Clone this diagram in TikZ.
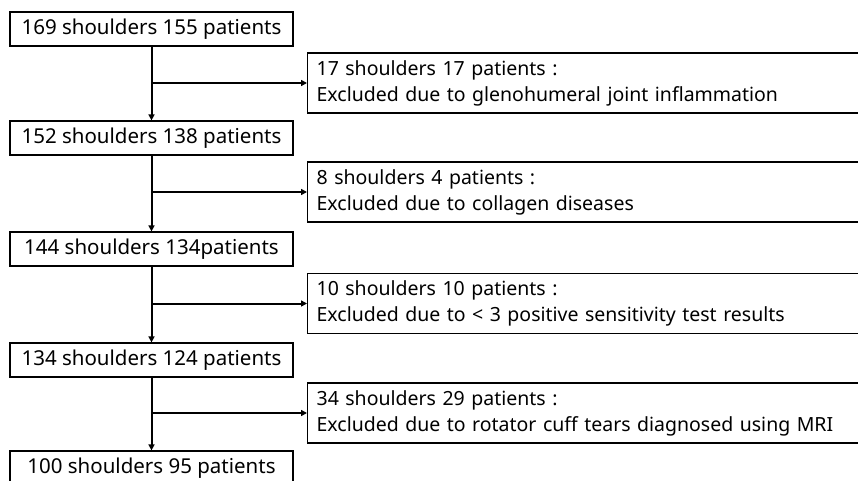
\documentclass[tikz,border=0pt]{standalone}
\usepackage{fontspec}
\setmainfont{Noto Sans}
\usetikzlibrary{arrows.meta}
\begin{document}
\begin{tikzpicture}[x=1pt,y=-1pt,
  mainbox/.style={draw, line width=1.2pt, minimum width=283pt, minimum height=34pt, inner sep=0pt, font=\fontsize{20.5}{24}\selectfont},
  exbox/.style={draw, line width=1.2pt, minimum width=560pt, minimum height=60pt, text width=542pt, inner xsep=9pt, inner ysep=0pt, align=left, anchor=west, font=\fontsize{19.5}{26}\selectfont},
  arr/.style={line width=2pt, -{Triangle[length=6pt,width=6pt]}}]
\useasboundingbox (0,0) rectangle (858,481);
\clip (0,0) rectangle (858,481);
\fill[white] (0,0) rectangle (858,481);
\node[mainbox] (m1) at (151.5,29) {169 shoulders 155 patients};
\node[mainbox] (m2) at (151.5,138) {152 shoulders 138 patients};
\node[mainbox] (m3) at (151.5,249) {144 shoulders 134patients};
\node[mainbox] (m4) at (151.5,360) {134 shoulders 124 patients};
\node[mainbox] (m5) at (151.5,468) {100 shoulders 95 patients};
\node[exbox] (e1) at (307,83) {17 shoulders 17 patients :\\Excluded due to glenohumeral joint inflammation};
\node[exbox] (e2) at (307,192) {8 shoulders 4 patients :\\Excluded due to collagen diseases};
\node[exbox] (e3) at (307,303.5) {10 shoulders 10 patients :\\Excluded due to < 3 positive sensitivity test results};
\node[exbox] (e4) at (307,413) {34 shoulders 29 patients :\\Excluded due to rotator cuff tears diagnosed using MRI};
\draw[arr] (m1.south) -- (m2.north);
\draw[arr] (m2.south) -- (m3.north);
\draw[arr] (m3.south) -- (m4.north);
\draw[arr] (m4.south) -- (m5.north);
\draw[arr] (m1.south |- e1.west) -- (e1.west);
\draw[arr] (m2.south |- e2.west) -- (e2.west);
\draw[arr] (m3.south |- e3.west) -- (e3.west);
\draw[arr] (m4.south |- e4.west) -- (e4.west);
\end{tikzpicture}
\end{document}
